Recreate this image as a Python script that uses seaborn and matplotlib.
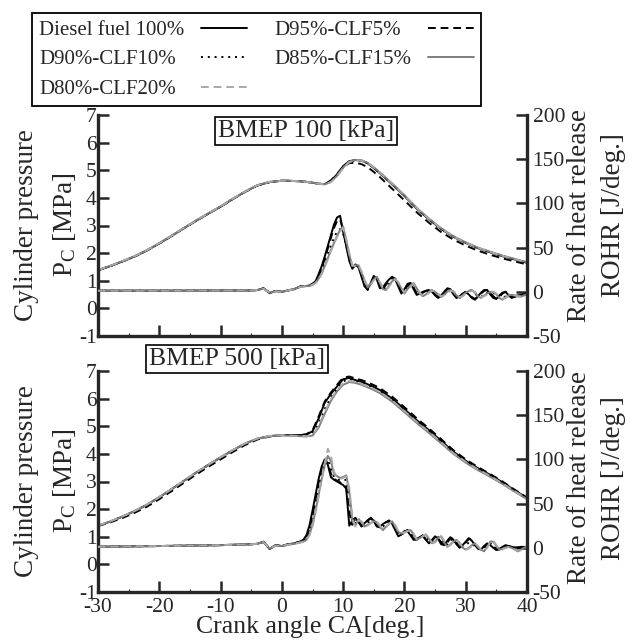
#!/usr/bin/env python3

# Cylinder pressure and ROHR for diesel / CLF blends at two loads.

import matplotlib
matplotlib.use("Agg")
import matplotlib.pyplot as plt
from matplotlib.lines import Line2D
from matplotlib.ticker import MultipleLocator
import pandas as pd
import seaborn as sns

fuels = ["Diesel fuel 100%", "D95%-CLF5%", "D90%-CLF10%", "D85%-CLF15%", "D80%-CLF20%"]
colors = ["black", "black", "black", "#7f7f7f", "#a8a8a8"]
dash_styles = ["", (4, 2.5), (1, 2.5), "", (4, 2.5)]

# crank angle grids [deg.]
ca_p = [-30, -28, -26, -24, -22, -20, -18, -16, -14, -12, -10, -8, -6, -4, -2,
        0, 1, 2, 3, 4, 5, 6, 7, 8, 9, 10, 11, 12, 13, 14, 15, 16,
        18, 20, 22, 24, 26, 28, 30, 32, 34, 36, 38, 40]
ca_r = [-30, -20, -10, -5, -4, -3, -2, -1, 0, 1, 2, 3,
        3.5, 4, 4.5, 5, 5.5, 6, 6.5, 7, 7.5, 8,
        8.5, 9, 9.5, 10, 10.5, 11, 11.5, 12, 12.5, 13,
        13.5, 14, 14.5, 15, 15.5, 16, 16.5, 17, 17.5, 18,
        18.5, 19, 19.5, 20, 20.5, 21, 21.5, 22, 22.5, 23,
        23.5, 24, 24.5, 25, 25.5, 26, 26.5, 27, 27.5, 28,
        28.5, 29, 29.5, 30, 30.5, 31, 31.5, 32, 32.5, 33,
        33.5, 34, 34.5, 35, 35.5, 36, 36.5, 37, 37.5, 38,
        38.5, 39, 39.5, 40]

# BMEP 100 kPa, cylinder pressure [MPa]
p100_diesel = [1.38, 1.53, 1.70, 1.88, 2.10, 2.35, 2.62, 2.90, 3.17, 3.43, 3.68, 3.96, 4.22, 4.45, 4.57,
               4.62, 4.62, 4.61, 4.60, 4.58, 4.55, 4.51, 4.50, 4.62, 4.85, 5.15, 5.33, 5.37, 5.35, 5.25, 5.08, 4.89,
               4.49, 4.07, 3.61, 3.22, 2.87, 2.59, 2.37, 2.18, 2.03, 1.89, 1.77, 1.65]
p100_clf5 = [1.38, 1.53, 1.70, 1.88, 2.10, 2.35, 2.62, 2.90, 3.17, 3.43, 3.68, 3.96, 4.22, 4.45, 4.57,
             4.62, 4.62, 4.61, 4.60, 4.58, 4.55, 4.51, 4.50, 4.63, 4.86, 5.12, 5.26, 5.27, 5.22, 5.11, 4.94, 4.75,
             4.33, 3.91, 3.48, 3.10, 2.76, 2.49, 2.27, 2.09, 1.94, 1.81, 1.70, 1.59]
p100_clf10 = [1.38, 1.53, 1.70, 1.88, 2.10, 2.35, 2.62, 2.90, 3.17, 3.43, 3.68, 3.96, 4.22, 4.45, 4.57,
              4.62, 4.62, 4.61, 4.60, 4.58, 4.55, 4.51, 4.49, 4.58, 4.80, 5.10, 5.30, 5.36, 5.35, 5.26, 5.09, 4.90,
              4.50, 4.08, 3.62, 3.23, 2.88, 2.60, 2.38, 2.19, 2.04, 1.90, 1.78, 1.66]
p100_clf15 = [1.39, 1.54, 1.71, 1.89, 2.11, 2.36, 2.63, 2.91, 3.18, 3.44, 3.69, 3.97, 4.23, 4.46, 4.58,
              4.62, 4.62, 4.61, 4.60, 4.58, 4.55, 4.51, 4.49, 4.58, 4.80, 5.10, 5.31, 5.37, 5.36, 5.27, 5.11, 4.92,
              4.52, 4.10, 3.64, 3.25, 2.90, 2.61, 2.39, 2.20, 2.05, 1.91, 1.79, 1.67]
p100_clf20 = [1.39, 1.54, 1.71, 1.89, 2.11, 2.36, 2.63, 2.91, 3.18, 3.44, 3.69, 3.97, 4.23, 4.46, 4.58,
              4.62, 4.62, 4.61, 4.60, 4.58, 4.55, 4.51, 4.49, 4.57, 4.78, 5.08, 5.29, 5.36, 5.35, 5.26, 5.10, 4.91,
              4.51, 4.09, 3.63, 3.24, 2.89, 2.60, 2.38, 2.19, 2.04, 1.90, 1.78, 1.66]

# BMEP 100 kPa, ROHR [J/deg.]
r100_diesel = [1.3, 1.3, 1.5, 1.5, 2, 4, -1.5, 1, 0, 1.5, 3, 6,
               6.5, 6.5, 7, 9, 12, 20, 29, 40, 52, 64,
               76, 84, 86, 68, 52, 35, 26, 31, 28, 17,
               6, 3, 10, 18, 14, 4, 5, 10, 14, 17,
               14, 6, -2, 3, 9, 10, 3, -3.5, -2, 0,
               1, 2, 0, -4, -7, -4, 0, 4, 3, -3,
               -7, -5, -2, 0, -3, -7, -9, -5, -1, 2,
               2, -3, -7, -8, -4, -1, 0, -4, -7, -5,
               -4, -3.5, -3, -2]
r100_clf5 = [1.3, 1.3, 1.5, 1.5, 2, 4, -1, 1, 0, 1.5, 3, 6,
             6.5, 6.5, 7, 9, 11, 18, 27, 37, 49, 61,
             72, 80, 82, 70, 54, 37, 27, 30, 29, 19,
             8, 2, 8, 17, 16, 6, 3, 8, 13, 16,
             15, 8, 0, 1, 7, 10, 5, -2, -3, -1,
             1, 2, 1, -3, -6, -5, -1, 3, 3, -1,
             -6, -6, -3, -1, -2, -6, -8, -6, -2, 1,
             2, -1, -5, -8, -6, -2, 0, -2, -6, -6,
             -4, -3, -3, -2]
r100_clf10 = [1.3, 1.3, 1.5, 1.5, 2, 3.5, -1, 0.5, 0, 1.5, 3, 5.5,
              6, 6.5, 7, 8, 11, 16, 23, 32, 42, 52,
              61, 68, 71, 66, 52, 38, 28, 31, 28, 20,
              10, 4, 9, 15, 16, 8, 2, 4, 9, 14,
              14, 9, 3, -2, 4, 8, 9, 3, -3, -4,
              -2, 1, 2, -1, -4, -6, -3, 1, 2, -1,
              -5, -7, -3, 0, 2, 1, -2, -5, -6, -3,
              -1, 0, -1, -4, -7, -8, -5, -4, -4, -4,
              -5, -5, -4, -3]
r100_clf15 = [1.3, 1.3, 1.5, 1.5, 2, 3.5, -1, 0.5, 0, 1.5, 3, 5.5,
              6, 6.5, 6.5, 8, 10, 15, 21, 29, 38, 47,
              55, 63, 70, 74, 58, 42, 29, 30, 30, 22,
              13, 5, 9, 14, 17, 10, 3, 2, 7, 12,
              15, 10, 4, -2, 3, 7, 10, 4, -2, -5,
              -3, 0, 2, 0, -3, -6, -3, 0, 2, 0,
              -4, -7, -4, -1, 1, 2, -1, -5, -7, -4,
              -2, 0, 0, -3, -7, -9, -6, -4, -3.5, -4,
              -5, -5.5, -4, -3]
r100_clf20 = [1.3, 1.3, 1.5, 1.5, 2, 3.5, -1, 0.5, 0, 1.5, 3, 5.5,
              6, 6.5, 6.5, 8, 10, 14, 20, 28, 37, 46,
              55, 62, 68, 72, 60, 44, 30, 29, 30, 23,
              13, 6, 8, 13, 16, 11, 4, 2, 6, 11,
              14, 11, 5, -1, 2, 6, 9, 5, -1, -4,
              -4, -1, 1, 1, -2, -5, -4, -1, 1, 1,
              -3, -6, -5, -2, 0, 1, 0, -4, -6, -5,
              -3, -1, 0, -2, -6, -8, -7, -5, -4, -4,
              -5, -5, -4, -3]

# BMEP 500 kPa, cylinder pressure [MPa]
p500_diesel = [1.40, 1.55, 1.73, 1.93, 2.16, 2.43, 2.72, 3.02, 3.32, 3.60, 3.87, 4.13, 4.37, 4.55, 4.64,
               4.68, 4.68, 4.68, 4.68, 4.70, 4.82, 5.28, 5.85, 6.17, 6.44, 6.70, 6.75, 6.67, 6.61, 6.52, 6.42, 6.31,
               6.00, 5.62, 5.22, 4.86, 4.47, 4.08, 3.75, 3.48, 3.24, 2.97, 2.68, 2.40]
p500_clf5 = [1.39, 1.52, 1.68, 1.87, 2.09, 2.36, 2.65, 2.95, 3.25, 3.53, 3.80, 4.07, 4.32, 4.52, 4.63,
             4.68, 4.68, 4.68, 4.68, 4.71, 4.85, 5.35, 5.90, 6.22, 6.50, 6.76, 6.80, 6.73, 6.67, 6.59, 6.49, 6.38,
             6.07, 5.69, 5.29, 4.92, 4.53, 4.13, 3.80, 3.52, 3.27, 3.00, 2.70, 2.42]
p500_clf10 = [1.40, 1.55, 1.73, 1.93, 2.16, 2.43, 2.72, 3.02, 3.32, 3.60, 3.87, 4.13, 4.37, 4.55, 4.64,
              4.68, 4.68, 4.67, 4.67, 4.67, 4.74, 5.08, 5.62, 6.05, 6.36, 6.62, 6.72, 6.65, 6.59, 6.50, 6.40, 6.29,
              5.98, 5.60, 5.20, 4.84, 4.45, 4.06, 3.73, 3.46, 3.22, 2.95, 2.66, 2.38]
p500_clf15 = [1.40, 1.55, 1.73, 1.93, 2.16, 2.43, 2.72, 3.02, 3.32, 3.60, 3.87, 4.13, 4.37, 4.55, 4.64,
              4.67, 4.66, 4.65, 4.64, 4.63, 4.66, 4.95, 5.45, 5.92, 6.26, 6.50, 6.60, 6.57, 6.50, 6.41, 6.31, 6.20,
              5.89, 5.51, 5.12, 4.76, 4.38, 4.00, 3.68, 3.41, 3.17, 2.91, 2.63, 2.36]
p500_clf20 = [1.41, 1.56, 1.74, 1.94, 2.17, 2.44, 2.73, 3.03, 3.33, 3.61, 3.88, 4.14, 4.38, 4.56, 4.65,
              4.68, 4.67, 4.66, 4.65, 4.64, 4.68, 5.00, 5.52, 5.98, 6.30, 6.55, 6.64, 6.60, 6.53, 6.45, 6.35, 6.24,
              5.93, 5.55, 5.16, 4.80, 4.42, 4.03, 3.71, 3.44, 3.20, 2.93, 2.65, 2.37]

# BMEP 500 kPa, ROHR [J/deg.]
r500_diesel = [1.2, 2, 3, 4, 4.5, 7, -1.5, 3, 2, 4, 5, 7,
               9, 14, 25, 42, 60, 78, 92, 100, 94, 80,
               77, 75, 73, 71, 67, 25, 31, 34, 29, 24,
               28, 31, 34, 30, 24, 24, 27, 29, 31, 27,
               20, 13, 15, 19, 19, 14, 9, 10, 12, 13,
               9, 5, 9, 13, 10, 4, 3, 8, 12, 9,
               4, 0, 3, 7, 11, 8, 3, -1, -2, 2,
               5, 3, 0, -2.5, -1, 1, 3, 2, 1, 0.5,
               0.5, 1, 1, 1]
r500_clf5 = [1.2, 2, 3, 4, 4.5, 6.5, -1, 3, 2, 4, 5, 7,
             8, 12, 21, 37, 55, 74, 90, 99, 96, 84,
             78, 76, 74, 72, 69, 40, 26, 33, 31, 25,
             27, 31, 33, 31, 25, 23, 26, 29, 30, 28,
             22, 15, 14, 18, 20, 16, 10, 9, 12, 14,
             10, 6, 8, 12, 11, 6, 3, 6, 11, 10,
             5, 1, 2, 6, 10, 9, 4, 0, -2, 1,
             4, 4, 1, -2, -2, 0, 2, 2, 1, 0,
             0, 1, 1, 1]
r500_clf10 = [1.2, 2, 3, 4, 4.5, 6.5, -1, 2.5, 2, 3.5, 4.5, 6.5,
              8, 11, 19, 33, 50, 68, 85, 97, 100, 90,
              80, 78, 76, 76, 77, 60, 28, 28, 33, 27,
              25, 28, 31, 31, 26, 22, 24, 28, 30, 28,
              21, 16, 15, 18, 20, 17, 11, 9, 12, 14,
              12, 7, 6, 10, 12, 8, 3, 4, 9, 9,
              6, 2, 1, 3, 6, 5, 2, 0, -2, -1,
              3, 5, 3, 0, -2, -1, 1, 2, 1, -1,
              -2, -1, 0, 1]
r500_clf15 = [1.2, 2, 3, 4, 4.5, 6.5, -1, 2.5, 2, 3.5, 4.5, 6,
              7, 9, 15, 26, 42, 60, 78, 93, 104, 98,
              84, 81, 79, 80, 82, 64, 30, 25, 32, 29,
              24, 26, 28, 30, 29, 24, 20, 24, 27, 30,
              24, 18, 16, 18, 19, 20, 15, 9, 11, 13,
              15, 10, 5, 7, 11, 13, 6, 1, 4, 7,
              9, 5, 0, -2, 0, 3, 5, 1, -2, -4,
              1, 7, 7, 2, -2, -1, 0, 1, 0, -2,
              -4, -2, 0, 1]
r500_clf20 = [1.2, 2, 3, 4, 4.5, 6.5, -1, 2.5, 2, 3.5, 4.5, 6,
              7, 9, 14, 24, 40, 58, 77, 96, 112, 104,
              86, 80, 78, 79, 81, 68, 34, 24, 31, 30,
              25, 25, 28, 31, 30, 25, 21, 23, 27, 30,
              26, 19, 16, 17, 19, 20, 16, 10, 10, 13,
              15, 11, 6, 6, 10, 13, 8, 2, 3, 7,
              9, 6, 1, -2, -1, 2, 5, 2, -2, -3,
              0, 6, 8, 3, -2, -2, 0, 1, 0, -2,
              -3, -3, 0, 1]

W, H = 638, 641


def to_long(ca, series):
    frames = []
    for fuel, vals in zip(fuels, series):
        frames.append(pd.DataFrame({"ca": ca, "value": vals, "fuel": fuel}))
    return pd.concat(frames, ignore_index=True)


def draw(ax, df):
    sns.lineplot(
        data=df, x="ca", y="value", hue="fuel", style="fuel",
        hue_order=fuels, style_order=fuels,
        palette=dict(zip(fuels, colors)), dashes=dict(zip(fuels, dash_styles)),
        linewidth=1.4, estimator=None, sort=False, legend=False, ax=ax,
    )
    ax.set_xlabel("")
    ax.set_ylabel("")


def style_axes(ax, ax2, show_x):
    ax.set_xlim(-30, 40)
    ax.set_ylim(-1, 7)
    ax2.set_ylim(-50, 200)
    ax.xaxis.set_major_locator(MultipleLocator(10))
    ax.xaxis.set_minor_locator(MultipleLocator(5))
    ax.yaxis.set_major_locator(MultipleLocator(1))
    ax2.yaxis.set_major_locator(MultipleLocator(50))
    for a in (ax, ax2):
        for side in a.spines:
            a.spines[side].set_linewidth(2.4)
        a.spines["top"].set_visible(False)
    ax.spines["right"].set_visible(False)
    ax2.spines["left"].set_visible(False)
    ax2.spines["bottom"].set_visible(False)
    ax.tick_params(axis="x", which="major", direction="in", length=8, width=1.8,
                   labelsize=15.5, pad=4, labelbottom=show_x, top=False)
    ax.tick_params(axis="x", which="minor", direction="in", length=2.5, width=0.8, top=False)
    ax.tick_params(axis="y", which="major", direction="in", length=8, width=1.8,
                   labelsize=15.5, pad=1, right=False)
    ax2.tick_params(axis="y", which="major", direction="in", length=8, width=1.8,
                    labelsize=15.5, pad=4)


sns.set_style("ticks")
plt.rcParams["font.family"] = ["Liberation Serif", "DejaVu Serif"]
plt.rcParams["mathtext.fontset"] = "custom"
plt.rcParams["mathtext.rm"] = "Liberation Serif"
plt.rcParams["axes.unicode_minus"] = False

fig = plt.figure(figsize=(W / 100, H / 100), dpi=100)
ax_top = fig.add_axes([98 / W, 1 - 336 / H, 429 / W, 221 / H])
ax_bot = fig.add_axes([98 / W, 1 - 592 / H, 429 / W, 221 / H])
ax_top2 = ax_top.twinx()
ax_bot2 = ax_bot.twinx()

panels = [
    (ax_top, ax_top2, [p100_diesel, p100_clf5, p100_clf10, p100_clf15, p100_clf20],
     [r100_diesel, r100_clf5, r100_clf10, r100_clf15, r100_clf20], False),
    (ax_bot, ax_bot2, [p500_diesel, p500_clf5, p500_clf10, p500_clf15, p500_clf20],
     [r500_diesel, r500_clf5, r500_clf10, r500_clf15, r500_clf20], True),
]
for ax, ax2, pres, rohr, show_x in panels:
    draw(ax, to_long(ca_p, pres))
    draw(ax2, to_long(ca_r, rohr))
    style_axes(ax, ax2, show_x)

# panel captions
box = dict(boxstyle="square,pad=0.12", fc="white", ec="black", lw=1.2)
fig.text(306 / W, 1 - 131 / H, "BMEP 100 [kPa]", ha="center", va="center", fontsize=18.5, bbox=box)
fig.text(237 / W, 1 - 359 / H, "BMEP 500 [kPa]", ha="center", va="center", fontsize=18.5, bbox=box)

# axis titles
for yc, yr in [(225, 215), (481, 478)]:
    fig.text(27 / W, 1 - yc / H, "Cylinder pressure", rotation=90, ha="center", va="center", fontsize=19.5)
    fig.text(64 / W, 1 - yc / H, r"$\mathrm{P_C}$ [MPa]", rotation=90, ha="center", va="center", fontsize=19.5)
    fig.text(580 / W, 1 - yr / H, "Rate of heat release", rotation=90, ha="center", va="center", fontsize=19.5)
    fig.text(614 / W, 1 - yr / H, "ROHR [J/deg.]", rotation=90, ha="center", va="center", fontsize=19.5)
fig.text(310 / W, 1 - 627 / H, "Crank angle CA[deg.]", ha="center", va="center", fontsize=18.5)

# legend, filled row by row
handles = [Line2D([], [], color=c, lw=1.4, dashes=d if d else (None, None)) for c, d in zip(colors, dash_styles)]
order = [0, 2, 4, 1, 3]
leg = fig.legend(
    [handles[i] for i in order], [fuels[i] for i in order],
    ncol=2, loc="upper left", bbox_to_anchor=(32 / W, 1 - 13 / H),
    frameon=True, fancybox=False, edgecolor="black", framealpha=1,
    markerfirst=False, fontsize=15, handlelength=2.2, handletextpad=0.8,
    columnspacing=1.3, labelspacing=0.48, borderpad=0.35, borderaxespad=0,
)
leg.get_frame().set_linewidth(1.3)

# left-align the labels while keeping the samples in one column
fig.canvas.draw()
renderer = fig.canvas.get_renderer()
for column in leg._legend_handle_box.get_children():
    rows = column.get_children()
    widths = [row.get_children()[0].get_bbox(renderer).width for row in rows]
    for row, w in zip(rows, widths):
        row.sep += (max(widths) - w) * 72 / fig.dpi

fig.savefig("out.png", dpi=100)
